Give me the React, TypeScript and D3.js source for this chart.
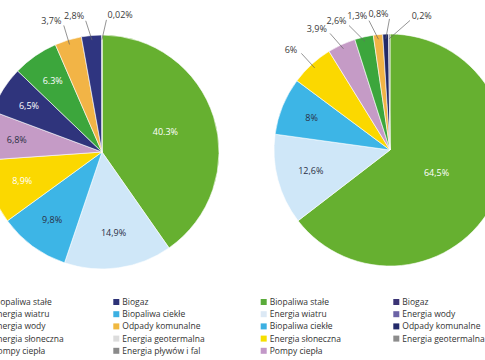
import React from 'react';
import * as d3 from 'd3';

// ---------- data ----------
const leftNames = [
  'Biopaliwa stałe', 'Energia wiatru', 'Biopaliwa ciekłe', 'Energia słoneczna', 'Pompy ciepła',
  'Biogaz', 'Energia wody', 'Odpady komunalne', 'Energia geotermalna', 'Energia pływów i fal',
];
const leftValues = [40.3, 14.9, 9.8, 8.9, 6.8, 6.5, 6.3, 3.7, 2.8, 0.02];
const leftLabels = ['40.3%', '14,9%', '9,8%', '8,9%', '6,8%', '6,5%', '6.3%', '3,7%', '2,8%', '0,02%'];
const leftColors = ['#66b030', '#cfe7f8', '#3db5e6', '#fbd800', '#c59bc6', '#2f347c', '#3ca63c', '#f2b446', '#2f3580', '#8a8a8a'];

const rightNames = [
  'Biopaliwa stałe', 'Energia wiatru', 'Biopaliwa ciekłe', 'Energia słoneczna', 'Pompy ciepła',
  'Biogaz', 'Energia wody', 'Odpady komunalne', 'Energia geotermalna',
];
const rightValues = [64.5, 12.6, 8, 6, 3.9, 2.6, 1.3, 0.8, 0.2];
const rightLabels = ['64,5%', '12,6%', '8%', '6%', '3,9%', '2,6%', '1,3%', '0,8%', '0,2%'];
const rightColors = ['#66b030', '#cfe7f8', '#3db5e6', '#fbd800', '#c59bc6', '#3ca63c', '#f2b446', '#222a68', '#8a8a8a'];

const leftLegendCol1 = ['Biopaliwa stałe', 'Energia wiatru', 'Energia wody', 'Energia słoneczna', 'Pompy ciepła'];
const leftLegendCol1Colors = ['#5aab3a', '#dce9f5', '#3ca63c', '#f6df00', '#c298c8'];
const leftLegendCol2 = ['Biogaz', 'Biopaliwa ciekłe', 'Odpady komunalne', 'Energia geotermalna', 'Energia pływów i fal'];
const leftLegendCol2Colors = ['#2d3277', '#3cb0e2', '#f0b840', '#dcdcdc', '#8a8a8a'];

const rightLegendCol1 = ['Biopaliwa stałe', 'Energia wiatru', 'Biopaliwa ciekłe', 'Energia słoneczna', 'Pompy ciepła'];
const rightLegendCol1Colors = ['#5aab3a', '#dce9f5', '#3cb0e2', '#f6df00', '#c298c8'];
const rightLegendCol2 = ['Biogaz', 'Energia wody', 'Odpady komunalne', 'Energia geotermalna'];
const rightLegendCol2Colors = ['#3b3475', '#6c63a6', '#232a6a', '#8c8c8c'];

// ---------- layout ----------
const W = 485;
const H = 360;
const FONT = '"Open Sans", "DejaVu Sans", sans-serif';
const OUTSIDE_THRESHOLD = 6.1; // percent
const MIN_GAP = (9 * Math.PI) / 180;

function polar(r: number, a: number): [number, number] {
  return [r * Math.sin(a), -r * Math.cos(a)];
}

type PieProps = { cx: number; cy: number; r: number; values: number[]; labels: string[]; colors: string[] };

function Pie({ cx, cy, r, values, labels, colors }: PieProps) {
  const pie = d3.pie<number>().sort(null).value((d) => d);
  const arcs = pie(values);
  const arc = d3.arc<d3.PieArcDatum<number>>().innerRadius(0).outerRadius(r);
  const total = d3.sum(values);

  const inside: JSX.Element[] = [];
  const outsideItems: { i: number; mid: number; ang: number }[] = [];
  arcs.forEach((a, i) => {
    const mid = (a.startAngle + a.endAngle) / 2;
    const pct = (values[i] / total) * 100;
    if (pct >= OUTSIDE_THRESHOLD) {
      const frac = 0.77 - 0.5 * (values[i] / total);
      const [x, y] = polar(r * frac, mid);
      const light = d3.hsl(colors[i]).l < 0.5;
      inside.push(
        <text key={'in' + i} x={x} y={y} dy="0.35em" textAnchor="middle" fontSize={9}
          fontFamily={FONT} fill={light ? '#ffffff' : '#2a2f45'}>{labels[i]}</text>
      );
    } else {
      outsideItems.push({ i, mid, ang: mid });
    }
  });
  // relax angles of outside labels
  for (let it = 0; it < 100; it++) {
    for (let k = 1; k < outsideItems.length; k++) {
      const d = outsideItems[k].ang - outsideItems[k - 1].ang;
      if (d < MIN_GAP) {
        const o = (MIN_GAP - d) / 2;
        outsideItems[k - 1].ang -= o;
        outsideItems[k].ang += o;
      }
    }
  }

  return (
    <g transform={`translate(${cx},${cy})`}>
      {arcs.map((a, i) => (
        <path key={i} d={arc(a) || ''} fill={colors[i]} stroke="#ffffff" strokeWidth={0.6} />
      ))}
      {inside}
      {outsideItems.map(({ i, mid, ang }) => {
        const [x1, y1] = polar(r * 0.96, mid);
        const [x2, y2] = polar(r * 1.13, ang);
        const [tx, ty] = polar(r * 1.17, ang);
        const right = Math.sin(ang) >= 0;
        return (
          <g key={'out' + i}>
            <line x1={x1} y1={y1} x2={x2} y2={y2} stroke="#666" strokeWidth={0.7} />
            <text x={tx + (right ? 1 : -1)} y={ty} dy="0.35em" textAnchor={right ? 'start' : 'end'}
              fontSize={9} fontFamily={FONT} fill="#3a3a3a">{labels[i]}</text>
          </g>
        );
      })}
    </g>
  );
}

type LegendProps = { x: number; y: number; names: string[]; colors: string[] };
function Legend({ x, y, names, colors }: LegendProps) {
  const rowScale = d3.scaleBand<number>().domain(d3.range(5)).range([0, 61]);
  return (
    <g transform={`translate(${x},${y})`}>
      {names.map((n, i) => {
        const yy = (rowScale(i) || 0);
        return (
          <g key={i} transform={`translate(0,${yy})`}>
            <rect x={0} y={-3} width={6} height={6} fill={colors[i]} />
            <text x={9} y={0} dy="0.35em" fontSize={8.5} fontFamily={FONT} fill="#333">{n}</text>
          </g>
        );
      })}
    </g>
  );
}

export default function App() {
  return (
    <svg width={W} height={H} style={{ position: 'absolute', left: 0, top: 0, background: '#fff' }}>
      <Pie cx={102} cy={152} r={117} values={leftValues} labels={leftLabels} colors={leftColors} />
      <Pie cx={390} cy={150} r={116} values={rightValues} labels={rightLabels} colors={rightColors} />
      <Legend x={-16.5} y={302} names={leftLegendCol1} colors={leftLegendCol1Colors} />
      <Legend x={113.3} y={302} names={leftLegendCol2} colors={leftLegendCol2Colors} />
      <Legend x={260.7} y={302} names={rightLegendCol1} colors={rightLegendCol1Colors} />
      <Legend x={393.3} y={302} names={rightLegendCol2} colors={rightLegendCol2Colors} />
    </svg>
  );
}
